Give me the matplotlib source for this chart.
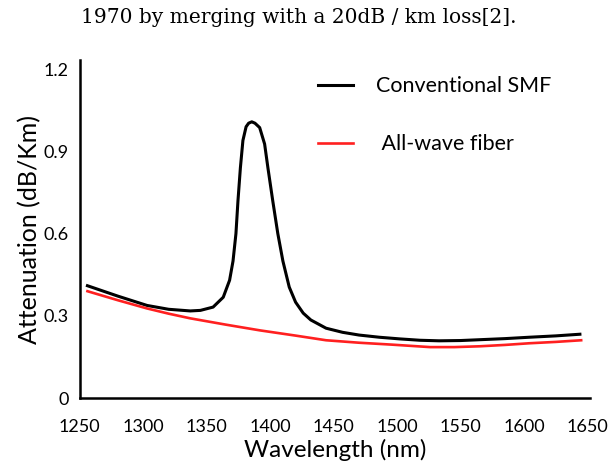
import numpy as np
import matplotlib
matplotlib.use('Agg')
import matplotlib.pyplot as plt

# values
smf_wl = [1256, 1280, 1303, 1320, 1337, 1345, 1355, 1363, 1368, 1370.7, 1373, 1374.6,
          1376.5, 1378.5, 1381, 1383, 1385.5, 1388, 1391.7, 1395.6, 1398.2, 1402, 1406,
          1410, 1415, 1420, 1426, 1432, 1444, 1457, 1470, 1486, 1502, 1518, 1533, 1550,
          1565, 1585, 1604, 1625, 1644]
smf_att = [0.41, 0.372, 0.338, 0.324, 0.318, 0.320, 0.332, 0.368, 0.43, 0.50, 0.60, 0.72,
           0.84, 0.94, 0.99, 1.003, 1.008, 1.003, 0.987, 0.927, 0.84, 0.72, 0.60,
           0.50, 0.405, 0.35, 0.31, 0.285, 0.255, 0.24, 0.230, 0.222, 0.216, 0.211, 0.209, 0.21,
           0.213, 0.217, 0.222, 0.227, 0.233]

aw_wl = [1256, 1280, 1303, 1320, 1337, 1365, 1392, 1420, 1444, 1470, 1496, 1526, 1545,
         1565, 1585, 1604, 1625, 1645]
aw_att = [0.39, 0.357, 0.327, 0.308, 0.291, 0.268, 0.247, 0.228, 0.211, 0.202, 0.195, 0.186,
          0.186, 0.189, 0.194, 0.20, 0.205, 0.211]

xticks = [1250, 1300, 1350, 1400, 1450, 1500, 1550, 1600, 1650]
yticks = [0, 0.3, 0.6, 0.9, 1.2]
ytick_labels = ['0', '0.3', '0.6', '0.9', '1.2']

plt.rcParams['font.family'] = ['Lato', 'DejaVu Sans']

fig = plt.figure(figsize=(6.14, 4.70), dpi=100)
ax = fig.add_axes([0.130, 0.153, 0.831, 0.719])

ax.plot(smf_wl, smf_att, color='black', lw=2.2, solid_joinstyle='round',
        label='Conventional SMF')
ax.plot(aw_wl, aw_att, color='#ff2020', lw=1.9, solid_joinstyle='round',
        label=' All-wave fiber')

ax.set_xlim(1250, 1652)
ax.set_ylim(0, 1.233)
ax.set_xticks(xticks)
ax.set_yticks(yticks)
ax.set_yticklabels(ytick_labels)
ax.tick_params(length=0, labelsize=13)
ax.tick_params(axis='x', pad=15)
ax.tick_params(axis='y', pad=8)
for s in ['top', 'right']:
    ax.spines[s].set_visible(False)
for s in ['left', 'bottom']:
    ax.spines[s].set_linewidth(1.8)

ax.set_xlabel('Wavelength (nm)', fontsize=17.5, labelpad=3)
ax.set_ylabel('Attenuation (dB/Km)', fontsize=18, labelpad=2)

ax.legend(loc='upper left', bbox_to_anchor=(299 / 614, 1 - 57 / 470),
          bbox_transform=fig.transFigure, frameon=False, fontsize=15.5,
          handlelength=1.6, handletextpad=1.1, labelspacing=1.75)

fig.text(0.487, 0.962, '1970 by merging with a 20dB / km loss[2].', family='DejaVu Serif',
         fontsize=14.5, ha='center', va='center')

fig.savefig('out.png', dpi=100)
